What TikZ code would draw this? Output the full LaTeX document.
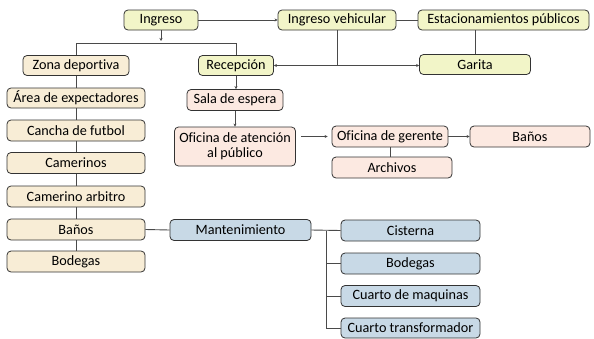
\documentclass[tikz,border=0pt]{standalone}
\usepackage{fontspec}
\setmainfont[Ligatures=NoCommon]{Carlito}
\usetikzlibrary{arrows.meta}
\definecolor{cYel}{HTML}{F2F5C8}
\definecolor{cBei}{HTML}{F8EDD6}
\definecolor{cPnk}{HTML}{FCE9E1}
\definecolor{cBlu}{HTML}{C8D9E6}
\definecolor{cLine}{HTML}{4A4A4A}
\definecolor{cBord}{HTML}{333333}
\tikzset{
  box/.style={draw=cBord, line width=0.8pt, rounded corners=4pt, inner sep=0pt,
    font=\fontsize{14.2}{15}\selectfont, align=center},
  yel/.style={box, fill=cYel},
  bei/.style={box, fill=cBei},
  pnk/.style={box, fill=cPnk},
  blu/.style={box, fill=cBlu},
  conn/.style={draw=cLine, line width=0.9pt},
  arr/.style={conn, -{Stealth[length=3pt,width=3pt]}},
  arrb/.style={conn, {Stealth[length=3pt,width=3pt]}-{Stealth[length=3pt,width=3pt]}}
}
\begin{document}
\begin{tikzpicture}[x=1pt,y=-1pt]
\useasboundingbox (0,0) rectangle (594,338);
% top row
\node[yel, minimum width=74pt, minimum height=20pt] (ing) at (161,20) {Ingreso};
\node[yel, minimum width=118pt, minimum height=20pt] (iv) at (337,20) {Ingreso vehicular};
\node[yel, minimum width=171pt, minimum height=20pt] (est) at (503.5,20) {Estacionamientos públicos};
% second row
\node[bei, minimum width=106pt, minimum height=20pt] (zd) at (76,65.5) {Zona deportiva};
\node[yel, minimum width=75pt, minimum height=20pt] (rec) at (236,65.5) {Recepción};
\node[yel, minimum width=111pt, minimum height=20pt] (gar) at (475,64.5) {Garita};
% left column
\node[bei, minimum width=138pt, minimum height=20pt] (ae) at (76,98) {Área de expectadores};
\node[bei, minimum width=138pt, minimum height=21pt] (cf) at (76,130.5) {Cancha de futbol};
\node[bei, minimum width=138pt, minimum height=21pt] (cam) at (76,163) {Camerinos};
\node[bei, minimum width=138pt, minimum height=21pt] (ca) at (76,196.5) {Camerino arbitro};
\node[bei, minimum width=138pt, minimum height=21pt] (bY) at (76,229.5) {Baños};
\node[bei, minimum width=138pt, minimum height=21pt] (bodY) at (76,261.5) {Bodegas};
% reception branch
\node[pnk, minimum width=96pt, minimum height=21pt] (sala) at (235,100) {Sala de espera};
\node[pnk, minimum width=121pt, minimum height=39pt] (ofi) at (235,146.5) {Oficina de atención\\al público};
\node[pnk, minimum width=116pt, minimum height=21pt] (ger) at (390,136.5) {Oficina de gerente};
\node[pnk, minimum width=120pt, minimum height=21pt] (banP) at (530,136.5) {Baños};
\node[pnk, minimum width=120pt, minimum height=21pt] (arch) at (392,167.5) {Archivos};
% maintenance
\node[blu, minimum width=141pt, minimum height=21pt] (mant) at (240.5,230) {Mantenimiento};
\node[blu, minimum width=139pt, minimum height=21pt] (cis) at (410.5,230.5) {Cisterna};
\node[blu, minimum width=139pt, minimum height=21pt] (bodB) at (410.5,263.5) {Bodegas};
\node[blu, minimum width=139pt, minimum height=21pt] (cdm) at (410.5,296) {Cuarto de maquinas};
\node[blu, minimum width=139pt, minimum height=20pt] (ct) at (410.5,328) {Cuarto transformador};
% connectors
\coordinate (j1) at (161,43);
\coordinate (j1a) at (161,41);
\draw[arr] (ing.east) -- (iv.west);
\draw[conn] (iv.east) -- (est.west);
\draw[arr] (ing.south) -- (j1a);
\draw[conn] (zd.north) -- (zd.north |- j1) -- (rec.north |- j1) -- (rec.north);
\draw[arrb] (rec.east) -- (rec.east -| gar.west);
\draw[conn] (iv.south) -- (iv.south |- gar.west);
\draw[conn] (gar.north) -- (gar.north |- est.south);
\draw[conn] (zd) -- (ae);
\draw[conn] (ae) -- (cf);
\draw[conn] (cf) -- (cam);
\draw[conn] (cam) -- (ca);
\draw[conn] (ca) -- (bY);
\draw[conn] (bY) -- (bodY);
\draw[arr] (rec.south) -- (rec.south |- sala.north);
\draw[arr] (sala.south) -- (sala.south |- ofi.north);
\draw[arr] (ofi.east |- ger.west) ++(5,0) coordinate (o1) -- ([xshift=-4pt]ger.west);
\draw[arr] (ger.east) -- (banP.west);
\draw[conn] (ger.south) -- (ger.south |- arch.north);
\draw[conn] (bY.east) -- (mant.west);
\coordinate (t) at (326,230.5);
\draw[conn] (mant.east) -- (cis.west);
\draw[conn] (t) |- (ct.west);
\draw[conn] (t |- bodB.west) -- (bodB.west);
\draw[conn] (t |- cdm.west) -- (cdm.west);
\end{tikzpicture}
\end{document}
